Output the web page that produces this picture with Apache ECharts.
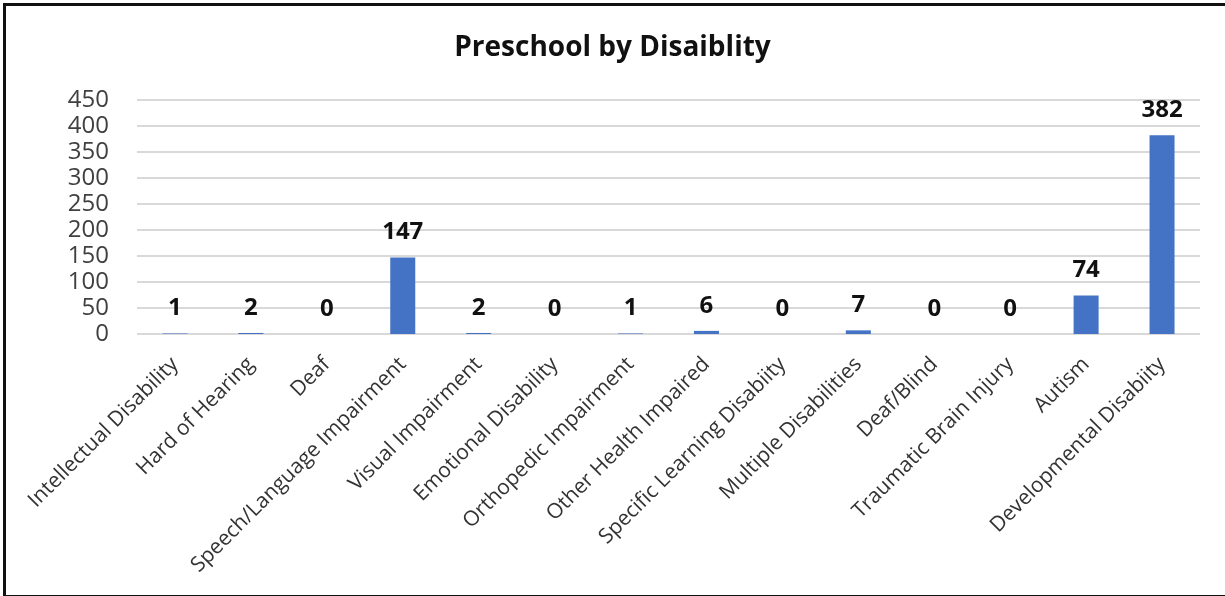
<!DOCTYPE html>
<html><head><meta charset="utf-8">
<script src="https://cdn.jsdelivr.net/npm/echarts@6/dist/echarts.min.js"></script>
<style>
html,body{margin:0;padding:0;background:#fff;}
#frame{position:absolute;left:3px;top:3px;width:1230px;height:589px;border:3px solid #111;box-sizing:content-box;}
#c{position:absolute;left:0;top:0;width:1225px;height:596px;}
</style></head>
<body>
<div id="frame"></div>
<div id="c"></div>
<script>
const categories = ["Intellectual Disability","Hard of Hearing","Deaf","Speech/Language Impairment","Visual Impairment","Emotional Disability","Orthopedic Impairment","Other Health Impaired","Specific Learning Disabiity","Multiple Disabilities","Deaf/Blind","Traumatic Brain Injury","Autism","Developmental Disabiity"];
const values = [1,2,0,147,2,0,1,6,0,7,0,0,74,382];
const yTicks = [0,50,100,150,200,250,300,350,400,450];

const chart = echarts.init(document.getElementById('c'));
chart.setOption({
  animation:false,
  title:{text:'Preschool by Disaiblity',left:'center',top:29,
    textStyle:{fontFamily:'Open Sans',fontSize:28,fontWeight:'bold',color:'#111'}},
  grid:{left:137,right:25,top:100,bottom:262,containLabel:false},
  xAxis:{type:'category',data:categories,
    axisLine:{show:false},axisTick:{show:false},
    axisLabel:{interval:0,rotate:45,fontFamily:'Open Sans',fontSize:21,color:'#333',margin:27}},
  yAxis:{type:'value',min:0,max:450,interval:50,
    axisLine:{show:false},axisTick:{show:false},
    splitLine:{lineStyle:{color:'#d9d9d9',width:2}},
    axisLabel:{fontFamily:'Open Sans',fontSize:24,color:'#404040',margin:28,
      formatter:v=>yTicks.includes(v)?String(v):''}},
  series:[{type:'bar',data:values,barWidth:25,
    itemStyle:{color:'#4472c4'},
    label:{show:true,position:'top',distance:13,fontFamily:'Open Sans',fontSize:24,fontWeight:'bold',color:'#111'}}]
});
</script>
</body></html>
